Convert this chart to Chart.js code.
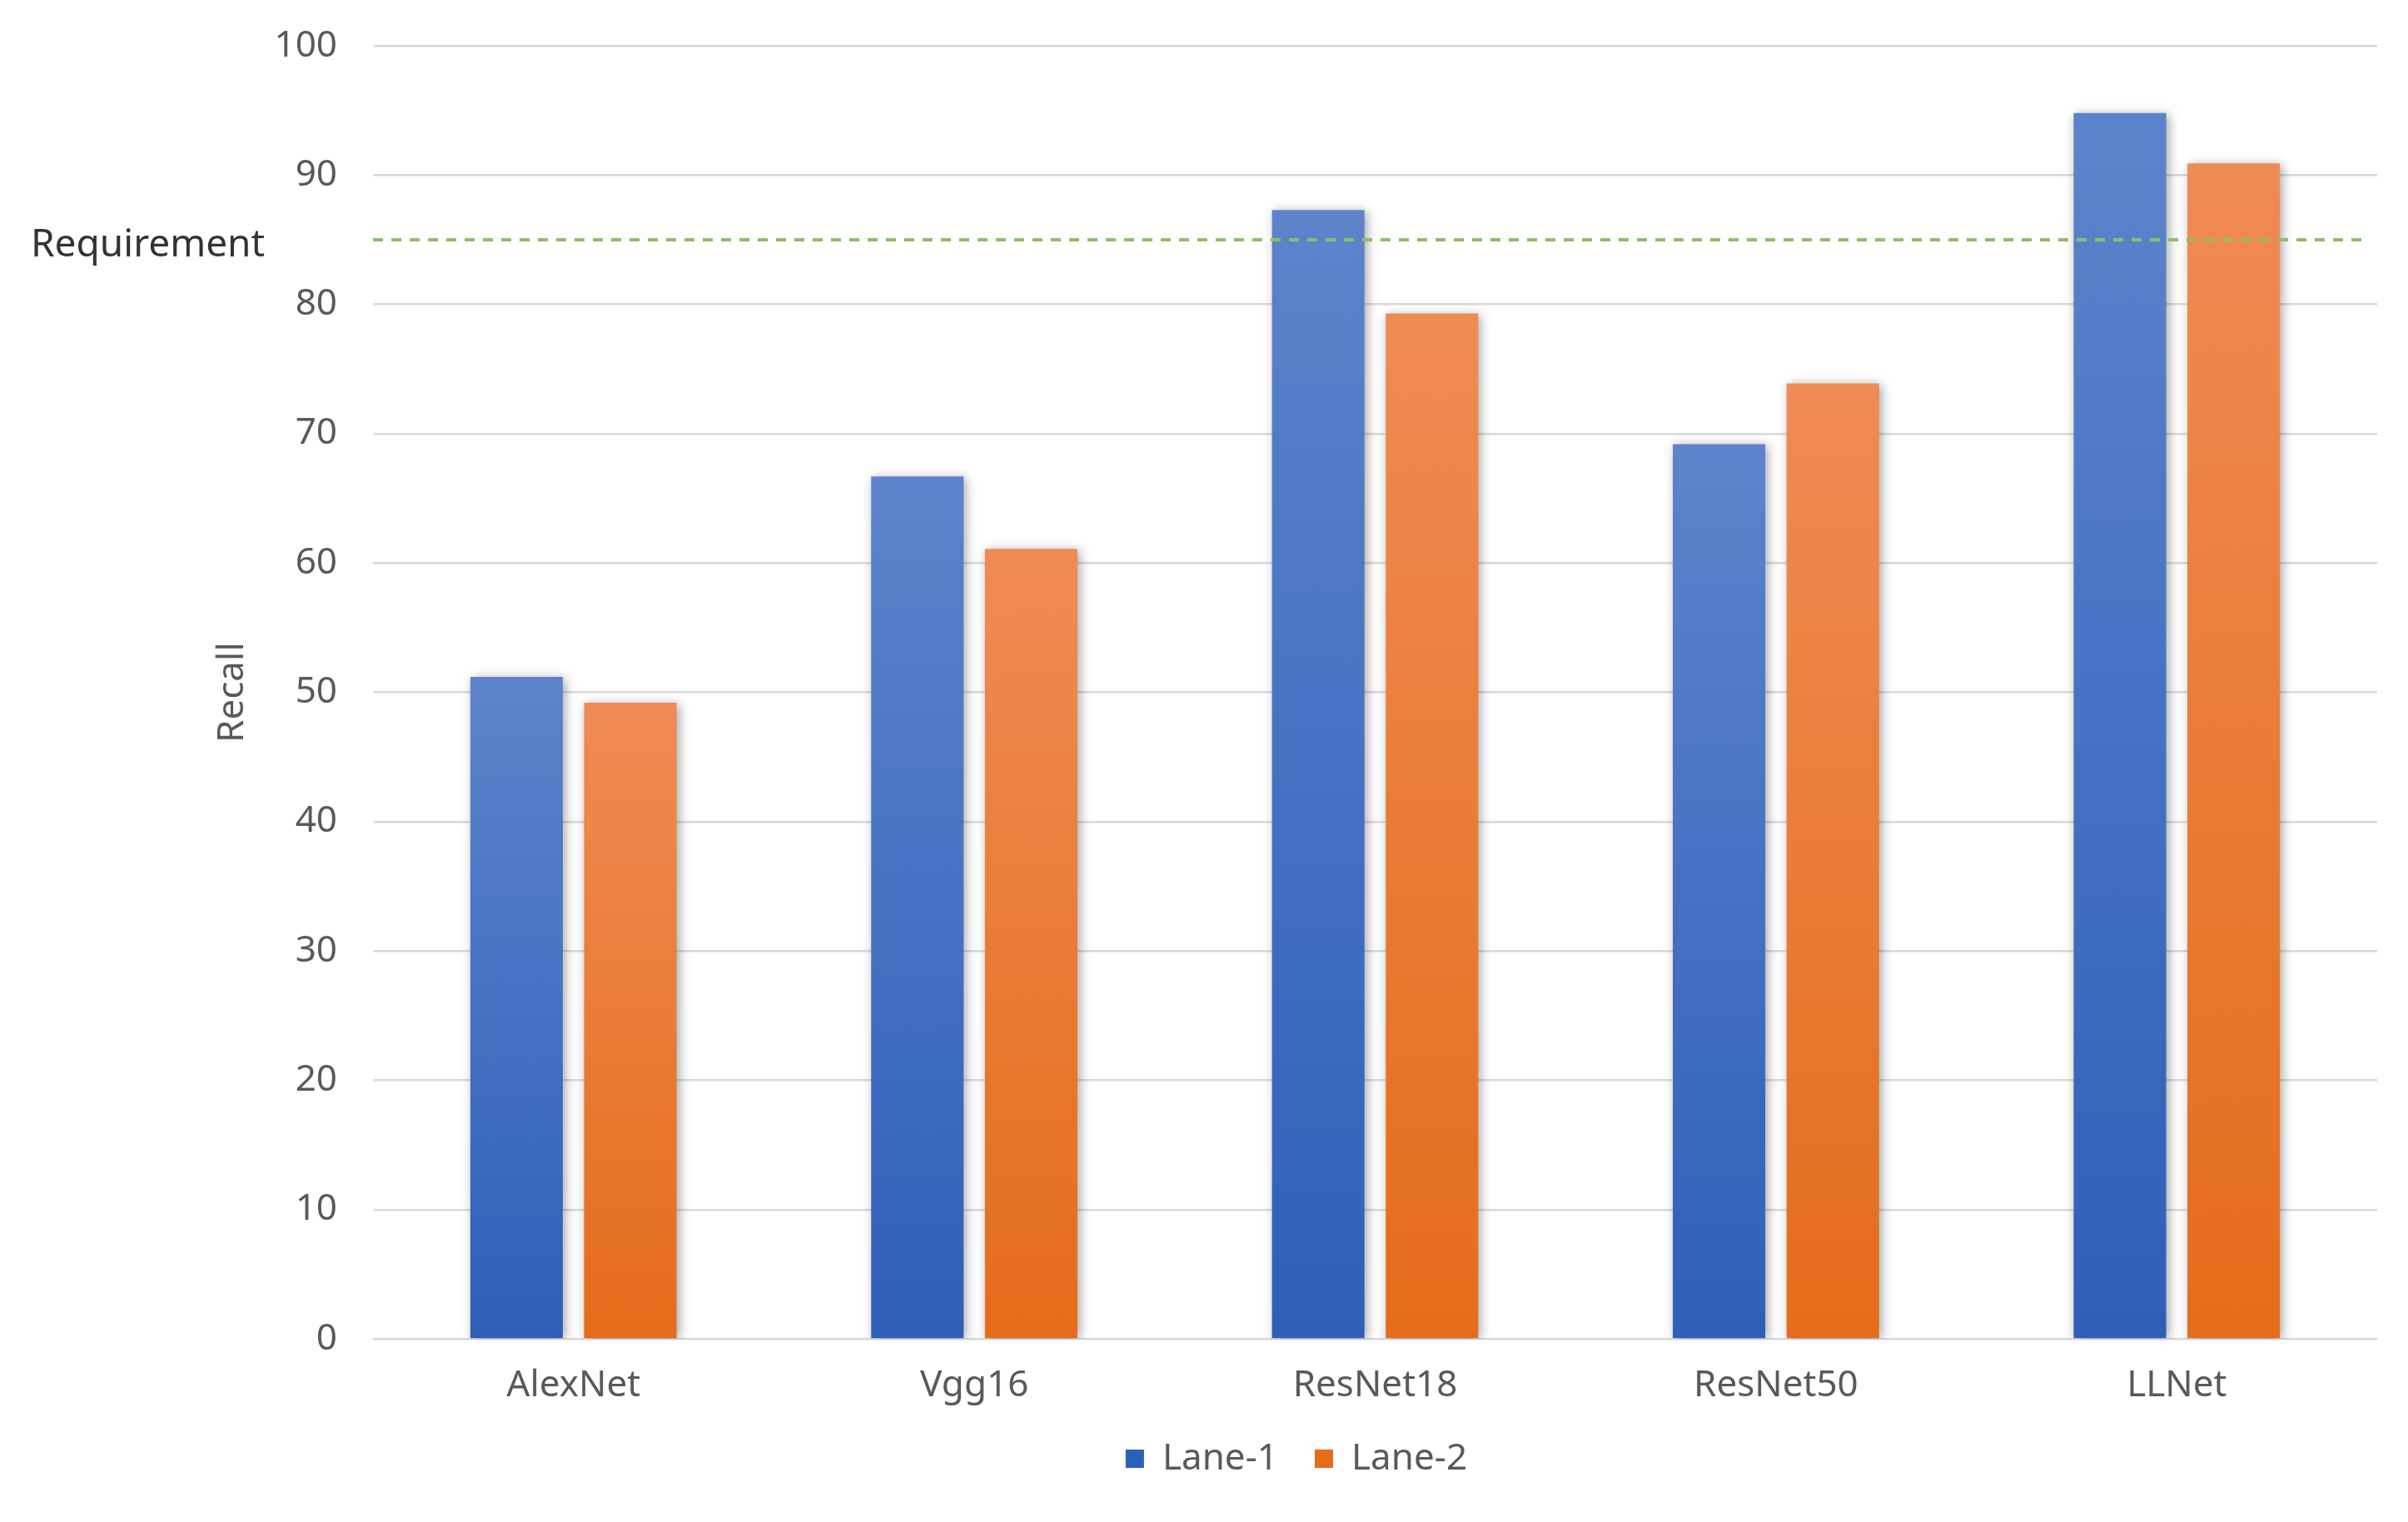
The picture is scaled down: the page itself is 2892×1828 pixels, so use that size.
<!DOCTYPE html>
<html>
<head>
<meta charset="utf-8">
<script src="https://cdn.jsdelivr.net/npm/chart.js@4/dist/chart.umd.min.js"></script>
<style>
  body { margin: 0; background: #fff; }
  #box { width: 2892px; height: 1828px; }
</style>
</head>
<body>
<div id="box"><canvas id="grafica" width="2892" height="1828"></canvas></div>
<script>
const modelos = ['AlexNet', 'Vgg16', 'ResNet18', 'ResNet50', 'LLNet'];
const lane1 = [51.2, 66.7, 87.3, 69.2, 94.8];
const lane2 = [49.2, 61.1, 79.3, 73.9, 90.9];
const requisito = 85;
const ticksY = [0, 10, 20, 30, 40, 50, 60, 70, 80, 90, 100];

const gris = '#595959';
const fuente = '"Noto Sans", "Open Sans", sans-serif';

// degradado por barra, de arriba (claro) a abajo (oscuro)
function relleno(arriba, abajo) {
    return function (context) {
        const chart = context.chart;
        if (!chart.chartArea || context.type !== 'data') return abajo;
        const y = chart.scales.y;
        const g = chart.ctx.createLinearGradient(0, y.getPixelForValue(context.parsed.y), 0, y.getPixelForValue(0));
        g.addColorStop(0, arriba);
        g.addColorStop(1, abajo);
        return g;
    };
}

// sombra suave detras de las barras
const sombra = {
    id: 'sombra',
    beforeDatasetsDraw(chart) {
        const ctx = chart.ctx;
        ctx.save();
        ctx.shadowColor = 'rgba(0,0,0,0.35)';
        ctx.shadowBlur = 12;
        ctx.shadowOffsetX = 3;
        ctx.shadowOffsetY = 2;
    },
    afterDatasetsDraw(chart) {
        chart.ctx.restore();
    }
};

// linea punteada de requisito y su etiqueta
const lineaRequisito = {
    id: 'lineaRequisito',
    afterDraw(chart) {
        const ctx = chart.ctx;
        const area = chart.chartArea;
        const y = chart.scales.y.getPixelForValue(requisito);
        ctx.save();
        ctx.strokeStyle = '#8cc063';
        ctx.lineWidth = 4;
        ctx.setLineDash([12, 10]);
        ctx.beginPath();
        ctx.moveTo(area.left, y);
        ctx.lineTo(area.right - 18, y);
        ctx.stroke();
        ctx.setLineDash([]);
        ctx.fillStyle = '#333333';
        ctx.font = '46px ' + fuente;
        ctx.textAlign = 'left';
        ctx.textBaseline = 'middle';
        ctx.fillText('Requirement', 37, y + 7);
        ctx.restore();
    }
};

// mover la leyenda: un poco a la derecha y hacia arriba
const moverLeyenda = {
    id: 'moverLeyenda',
    afterLayout(chart) {
        const l = chart.legend;
        const d = 1557 - (l.left + l.right) / 2;
        l.left += d;
        l.right += d;
        l.top -= 27;
        l.bottom -= 27;
    }
};

const ctx = document.getElementById('grafica').getContext('2d');
new Chart(ctx, {
    type: 'bar',
    data: {
        labels: modelos,
        datasets: [
            {
                label: 'Lane-1',
                data: lane1,
                backgroundColor: relleno('#5d84cb', '#2e5fb8'),
                categoryPercentage: 0.5676,
                barPercentage: 0.813
            },
            {
                label: 'Lane-2',
                data: lane2,
                backgroundColor: relleno('#f08b54', '#e56c1a'),
                categoryPercentage: 0.5676,
                barPercentage: 0.813
            }
        ]
    },
    options: {
        responsive: false,
        animation: false,
        devicePixelRatio: 1,
        layout: { padding: { left: 0, right: 37, top: 0, bottom: 17 } },
        plugins: {
            legend: {
                position: 'bottom',
                labels: {
                    color: gris,
                    font: { family: fuente, size: 44 },
                    boxWidth: 22,
                    boxHeight: 22,
                    padding: 44
                }
            },
            tooltip: { enabled: false }
        },
        scales: {
            x: {
                grid: { display: false },
                border: { display: false },
                ticks: {
                    color: gris,
                    font: { family: fuente, size: 44 },
                    padding: 22
                }
            },
            y: {
                min: 0,
                max: 100,
                afterFit: function (scale) {
                    scale.width = 448;
                    scale.paddingTop = 55;
                    scale.paddingBottom = 30;
                },
                afterBuildTicks: function (scale) {
                    scale.ticks = ticksY.map(v => ({ value: v }));
                },
                grid: { color: '#d9d9d9', lineWidth: 2.5, drawTicks: false },
                border: { display: false },
                ticks: {
                    color: gris,
                    font: { family: fuente, size: 44 },
                    padding: 43
                },
                title: {
                    display: true,
                    text: 'Recall',
                    color: gris,
                    font: { family: fuente, size: 44 },
                    padding: { top: 253, bottom: 0 }
                }
            }
        }
    },
    plugins: [sombra, lineaRequisito, moverLeyenda]
});
</script>
</body>
</html>
